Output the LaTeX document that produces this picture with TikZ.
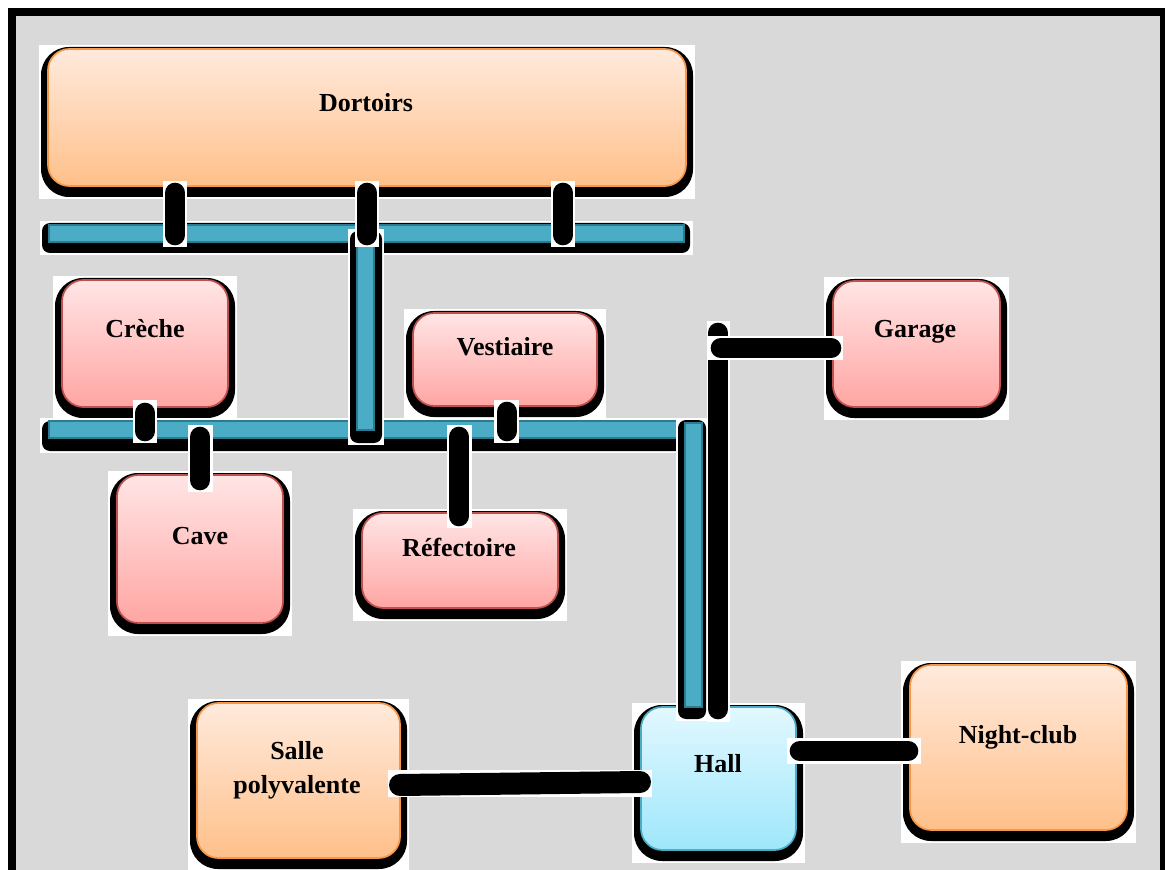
\documentclass[tikz,border=0pt]{standalone}
\usepackage{fontspec}
\setmainfont{Liberation Serif}
\usetikzlibrary{fit}
\definecolor{bggray}{HTML}{D9D9D9}
\definecolor{orB}{HTML}{F79646}
\definecolor{orT}{HTML}{FFEADC}
\definecolor{orBot}{HTML}{FFC08A}
\definecolor{rdB}{HTML}{C0504D}
\definecolor{rdT}{HTML}{FFE5E5}
\definecolor{rdBot}{HTML}{FFA6A3}
\definecolor{blB}{HTML}{4BACC6}
\definecolor{blT}{HTML}{E2F8FF}
\definecolor{blBot}{HTML}{9EE7FB}
\definecolor{barblue}{HTML}{4BACC6}
\definecolor{bardark}{HTML}{2E7A8E}
\newcommand\roombox[6]{%
  \fill[white] ({#2-9},{#3-4}) rectangle ({#4+9},{#5+13});
  \fill[black, rounded corners=21pt] ({#2-7},{#3-2}) rectangle ({#4+7},{#5+11});
  \node[#6, fit={(#2,#3) (#4,#5)}] (#1) {};
}
\newcommand\pillback[4]{\fill[white] (#1,#2) rectangle (#3,#4);}
\begin{document}
\begin{tikzpicture}[x=0.75pt,y=-0.75pt,
  lbl/.style={font=\fontsize{19.5}{25.5}\selectfont\bfseries, align=center, inner sep=0},
  orangebox/.style={draw=orB, line width=1.3pt, top color=orT, bottom color=orBot, rounded corners=16pt, inner sep=0},
  redbox/.style={draw=rdB, line width=1.3pt, top color=rdT, bottom color=rdBot, rounded corners=16pt, inner sep=0},
  hallbox/.style={draw=blB, line width=1.3pt, top color=blT, bottom color=blBot, rounded corners=16pt, inner sep=0},
  pill/.style={draw=black, line width=15.5pt, line cap=round},
  bluebar/.style={fill=barblue, draw=bardark, line width=0.8pt},
  barshadow/.style={fill=black, rounded corners=6pt},
  backing/.style={fill=white}]
\useasboundingbox (0,0) rectangle (1165,870);
\clip (0,0) rectangle (1165,870);
\fill[white] (0,0) rectangle (1165,870);
\draw[line width=6pt, fill=bggray] (11.5,12) rectangle (1164,900);

% rooms
\roombox{dort}{48}{49}{686}{186}{orangebox}
\roombox{creche}{62}{280}{228}{407}{redbox}
\roombox{vest}{413}{313}{597}{406}{redbox}
\roombox{cave}{117}{475}{283}{623}{redbox}
\roombox{refect}{362}{513}{558}{608}{redbox}
\roombox{garage}{833}{281}{1000}{407}{redbox}
\roombox{salle}{197}{703}{400}{858}{orangebox}
\roombox{hall}{641}{707}{796}{850}{hallbox}
\roombox{night}{910}{665}{1127}{830}{orangebox}

\node[lbl, anchor=base] (tdort) at (366,112) {Dortoirs};
\node[lbl, anchor=base] (tcreche) at (145,338) {Crèche};
\node[lbl, anchor=base] (tvest) at (505,355) {Vestiaire};
\node[lbl, anchor=base] (tcave) at (200,544) {Cave};
\node[lbl, anchor=base] (trefect) at (459,556) {Réfectoire};
\node[lbl, anchor=base] (tgarage) at (915,338) {Garage};
\node[lbl] (tsalle) at (297,770) {Salle\\polyvalente};
\node[lbl, anchor=base] (thall) at (718,772) {Hall};
\node[lbl, anchor=base] (tnight) at (1018,743) {Night-club};

% top bus
\fill[backing] (40,221) rectangle (693,255);
\fill[barshadow] (42,223) rectangle (690,253);
\path[bluebar] (49,225) rectangle (684,242);
% middle bus
\fill[backing] (40,418) rectangle (690,453);
\fill[barshadow] (42,421) rectangle (690,451);
\path[bluebar] (49,421) rectangle (690,438);
% left vertical bar
\fill[backing] (348,229) rectangle (384,445);
\fill[barshadow] (350,231) rectangle (382,443);
\path[bluebar] (357,236) rectangle (374,430);
% right vertical bar
\fill[backing] (676,418) rectangle (708,721);
\fill[barshadow] (678,420) rectangle (706,719);
\path[bluebar] (685,423) rectangle (702,707);

% Hall - Garage line
\coordinate (hg1) at (718,709);
\coordinate (hg2) at (718,333);
\coordinate (hg3) at (721,348);
\coordinate (hg4) at (831,348);
\pillback{707}{321}{730}{722}
\draw[pill] (hg1) -- (hg2);
\pillback{708}{336}{843}{360}
\draw[pill] (hg3) -- (hg4);

% Dortoirs connectors
\coordinate (d1a) at (175,193); \coordinate (d1b) at (175,235);
\coordinate (d2a) at (367,193); \coordinate (d2b) at (367,235);
\coordinate (d3a) at (563,193); \coordinate (d3b) at (563,235);
\pillback{163}{181}{187}{247}\draw[pill] (d1a) -- (d1b);
\pillback{355}{181}{379}{247}\draw[pill] (d2a) -- (d2b);
\pillback{551}{181}{575}{247}\draw[pill] (d3a) -- (d3b);

% middle connectors
\coordinate (c1a) at (145,413); \coordinate (c1b) at (145,431);
\coordinate (c2a) at (200,437); \coordinate (c2b) at (200,480);
\coordinate (c3a) at (507,412); \coordinate (c3b) at (507,431);
\coordinate (c4a) at (459,437); \coordinate (c4b) at (459,516);
\pillback{133}{400}{157}{443}\draw[pill] (c1a) -- (c1b);
\pillback{188}{425}{213}{492}\draw[pill] (c2a) -- (c2b);
\pillback{494}{400}{519}{443}\draw[pill] (c3a) -- (c3b);
\pillback{447}{425}{472}{528}\draw[pill] (c4a) -- (c4b);

% Salle - Hall
\coordinate (sh1) at (400,785); \coordinate (sh2) at (640,782);
\pillback{388}{770}{652}{797}\draw[pill, line width=16.5pt] (sh1) -- (sh2);
% Hall - Night-club
\coordinate (hn1) at (800,751); \coordinate (hn2) at (908,751);
\pillback{787}{738}{921}{764}\draw[pill] (hn1) -- (hn2);
\end{tikzpicture}
\end{document}
